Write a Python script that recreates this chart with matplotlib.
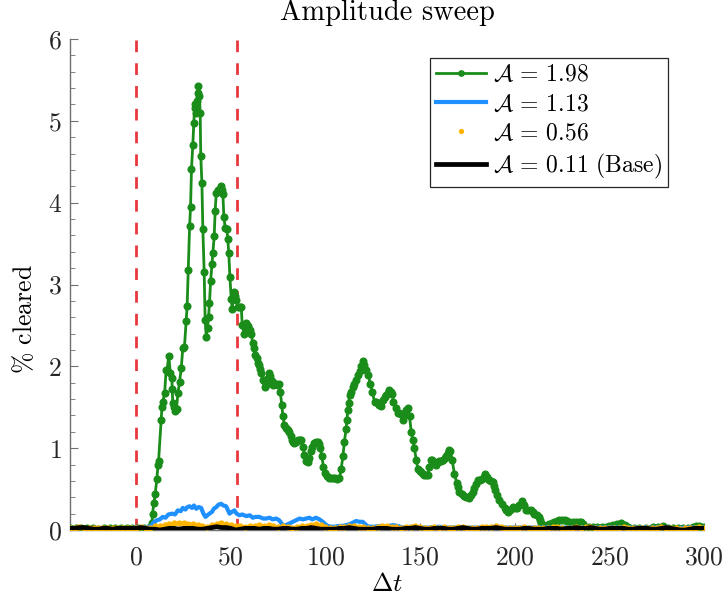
import numpy as np
import matplotlib
matplotlib.use("Agg")
import matplotlib.pyplot as plt
from matplotlib.ticker import MultipleLocator

# ---- data ----
# A = 1.98 (green, line + dots): (dt, % cleared)
green_t = [-35, -32, -29, -26, -23, -20, -17, -14, -11, -8, -5, -2, 1, 4, 6, 7.5,
           8.3, 8.6, 9.3, 10.0, 10.9, 11.5, 11.8, 13.2, 13.6, 14.1, 15.0, 15.8, 16.3, 17.2,
           18.0, 18.8, 19.0, 19.3, 20.0, 20.6, 21.3, 22.0, 22.9, 23.8, 24.6, 25.5, 26.4, 26.9,
           27.5, 28.2, 28.7, 29.2, 29.9, 30.4, 30.8, 31.3, 31.7, 32.0, 32.6, 32.9, 33.4, 33.8,
           34.1, 34.7, 35.2, 35.9, 36.4, 37.0, 37.7, 38.2, 38.7, 39.3, 40.0, 40.5, 41.2, 41.7,
           42.3, 43.0, 43.5, 44.1, 44.7, 45.3, 45.8, 46.3, 47.0, 47.9, 48.4, 48.9, 49.5, 50.2,
           50.7, 51.3, 51.9, 52.4, 52.8, 53.7, 54.6, 55.5, 56.0, 56.9, 57.5, 58.1, 58.7, 59.3,
           60.0, 60.7, 61.6, 62.3, 63.0, 63.6, 64.2, 64.8, 65.4, 66.0, 66.9, 67.8, 68.7, 69.3,
           69.9, 70.8, 71.5, 72.2, 73.1, 74.0, 74.7, 75.3, 76.1, 76.9, 77.5, 78.3, 79.0, 79.6,
           80.2, 80.9, 81.6, 82.4, 83.0, 83.6, 84.5, 85.4, 86.3, 87.2, 88.0, 88.9, 89.8, 90.7,
           91.5, 92.4, 93.0, 93.7, 94.8, 95.9, 96.5, 97.2, 98.1, 98.9, 100.0, 100.8, 101.7, 102.8,
           103.9, 105.0, 106.0, 107.4, 108.3, 109.2, 110.0, 110.9, 111.3, 111.8, 112.2, 112.7, 113.6, 114.4,
           115.3, 116.2, 117.1, 118.0, 118.8, 119.7, 120.6, 121.5, 122.7, 123.6, 124.7, 125.9, 126.7, 127.6,
           128.5, 129.4, 130.3, 131.2, 132.1, 133.0, 133.8, 134.5, 135.2, 135.9, 137.0, 138.2, 139.1, 140.0,
           140.8, 141.5, 142.3, 143.5, 144.4, 145.3, 146.1, 147.0, 147.9, 148.8, 149.7, 150.6, 151.4, 152.3,
           153.2, 154.0, 154.9, 155.8, 156.4, 157.6, 158.5, 159.3, 160.2, 161.1, 162.0, 162.9, 163.8, 164.6,
           165.5, 165.9, 166.9, 168.1, 169.4, 170.1, 170.8, 172.0, 173.4, 174.5, 175.7, 177.0, 178.0, 178.7,
           179.6, 180.5, 181.6, 182.8, 183.7, 184.5, 185.4, 186.3, 187.3, 188.4, 189.1, 189.8, 190.8, 191.9,
           193.2, 194.6, 195.5, 196.3, 197.6, 198.9, 200.0, 201.1, 202.5, 203.9, 204.8, 205.7, 207.2, 208.7,
           209.5, 210.4, 211.5, 212.7, 213.3, 213.9, 214.8, 215.7, 217.0, 218.3, 219.6, 221.0, 222.3, 223.6,
           225.0, 226.3, 227.6, 228.9, 230.6, 232.4, 233.7, 235.1, 236.0, 236.8, 239.0, 241.2, 243.5, 246.0,
           248.3, 250.0, 251.8, 254.0, 256.2, 258.0, 259.7, 263.0, 265.9, 269.5, 272.9, 275.5, 278.2, 281.0,
           283.5, 286.0, 288.8, 291.5, 294.1, 296.0, 297.6, 299.0, 300.0]
green_v = [0.02, 0.03, 0.03, 0.02, 0.02, 0.01, 0.02, 0.02, 0.02, 0.02, 0.03, 0.03, 0.03, 0.03, 0.02, 0.03,
           0.08, 0.20, 0.33, 0.44, 0.62, 0.80, 0.84, 1.34, 1.50, 1.57, 1.67, 1.96, 1.96, 2.13,
           1.92, 1.86, 1.72, 1.55, 1.50, 1.45, 1.48, 1.67, 1.81, 1.98, 2.22, 2.24, 2.56, 2.74,
           3.18, 3.71, 3.95, 4.41, 4.71, 4.97, 5.16, 5.20, 5.09, 5.24, 5.34, 5.42, 5.30, 5.09,
           4.57, 4.24, 3.68, 3.15, 2.57, 2.36, 2.47, 2.60, 2.77, 3.04, 3.25, 3.39, 3.59, 3.90,
           4.12, 4.15, 4.14, 4.17, 4.20, 4.15, 4.10, 3.83, 3.69, 3.68, 3.55, 3.38, 3.09, 2.82,
           2.70, 2.85, 2.91, 2.86, 2.81, 2.73, 2.72, 2.72, 2.51, 2.40, 2.48, 2.53, 2.50, 2.49,
           2.45, 2.40, 2.28, 2.22, 2.14, 2.10, 2.04, 2.02, 1.97, 1.92, 1.83, 1.75, 1.77, 1.85,
           1.92, 1.88, 1.82, 1.77, 1.78, 1.78, 1.77, 1.78, 1.69, 1.53, 1.39, 1.28, 1.25, 1.23,
           1.22, 1.20, 1.15, 1.10, 1.08, 1.06, 1.08, 1.10, 1.10, 1.10, 1.02, 0.92, 0.84, 0.83,
           0.88, 0.96, 1.01, 1.06, 1.07, 1.08, 1.05, 1.00, 0.90, 0.77, 0.70, 0.66, 0.63, 0.64,
           0.64, 0.63, 0.62, 0.63, 0.75, 0.90, 1.08, 1.24, 1.34, 1.47, 1.55, 1.65, 1.69, 1.75,
           1.79, 1.83, 1.89, 1.94, 2.00, 2.06, 2.02, 1.96, 1.89, 1.79, 1.69, 1.57, 1.56, 1.55,
           1.53, 1.51, 1.59, 1.62, 1.65, 1.68, 1.71, 1.69, 1.66, 1.57, 1.49, 1.43, 1.43, 1.42,
           1.34, 1.40, 1.47, 1.49, 1.39, 1.20, 1.10, 1.00, 0.86, 0.75, 0.72, 0.71, 0.69, 0.67,
           0.67, 0.67, 0.77, 0.86, 0.86, 0.83, 0.80, 0.83, 0.84, 0.84, 0.86, 0.88, 0.90, 0.94,
           0.98, 0.97, 0.86, 0.69, 0.57, 0.52, 0.47, 0.44, 0.41, 0.40, 0.39, 0.43, 0.47, 0.51,
           0.56, 0.61, 0.61, 0.62, 0.65, 0.68, 0.65, 0.61, 0.60, 0.59, 0.54, 0.49, 0.43, 0.37,
           0.32, 0.27, 0.24, 0.22, 0.25, 0.28, 0.27, 0.27, 0.31, 0.35, 0.30, 0.24, 0.24, 0.24,
           0.22, 0.20, 0.18, 0.16, 0.12, 0.08, 0.06, 0.05, 0.06, 0.07, 0.09, 0.10, 0.11, 0.12,
           0.12, 0.12, 0.11, 0.10, 0.10, 0.10, 0.10, 0.10, 0.07, 0.05, 0.04, 0.04, 0.04, 0.04,
           0.04, 0.05, 0.06, 0.07, 0.08, 0.06, 0.04, 0.03, 0.03, 0.03, 0.04, 0.04, 0.05, 0.03,
           0.02, 0.02, 0.03, 0.03, 0.04, 0.05, 0.05, 0.04, 0.03]

# A = 1.13 (blue line)
blue_t = [-35, -30, -25, -20, -15, -10, -5, 0, 5, 8, 9, 11, 12.5, 14, 15.5, 17, 19, 20.5, 22, 23.5,
          24.6, 26, 27, 28.2, 29.5, 30.5, 31.7, 33, 34.3, 35.5, 36.6, 37.6, 38.7, 40, 41, 42.3, 43.5, 44.9,
          46, 47.5, 48.5, 49.3, 50.5, 51.9, 53, 54.6, 56, 58.1, 60, 61.6, 63, 65.1, 67, 68.7, 70.5, 72,
          74, 75.5, 77.5, 79.2, 81, 82.7, 84.5, 86.3, 88, 89.8, 91.5, 93, 95, 96.8, 98.6, 100, 101.2, 103,
          105, 107, 109.1, 111, 112.7, 114.5, 116.2, 118, 119.7, 120.6, 122, 123.2, 126, 129, 132, 135.6,
          138, 141, 145, 150, 155, 160, 165, 170, 175, 180, 185, 190, 195, 200, 205, 210, 215, 220, 225,
          230, 235, 240, 245, 250, 255, 260, 265, 270, 275, 280, 285, 290, 295, 300]
blue_v = [0.02, 0.02, 0.02, 0.02, 0.02, 0.02, 0.02, 0.03, 0.03, 0.05, 0.09, 0.12, 0.13, 0.16, 0.15, 0.19, 0.20, 0.19, 0.24, 0.23,
          0.27, 0.25, 0.28, 0.29, 0.27, 0.30, 0.26, 0.28, 0.27, 0.20, 0.16, 0.18, 0.20, 0.22, 0.26, 0.28, 0.31, 0.32,
          0.30, 0.29, 0.24, 0.20, 0.22, 0.24, 0.20, 0.18, 0.19, 0.17, 0.18, 0.15, 0.16, 0.16, 0.14, 0.14, 0.15, 0.13,
          0.14, 0.12, 0.06, 0.06, 0.08, 0.10, 0.12, 0.14, 0.13, 0.14, 0.15, 0.13, 0.15, 0.13, 0.10, 0.07, 0.05, 0.04,
          0.04, 0.05, 0.05, 0.06, 0.07, 0.09, 0.11, 0.10, 0.10, 0.08, 0.05, 0.04, 0.04, 0.05, 0.04, 0.06,
          0.05, 0.03, 0.04, 0.03, 0.03, 0.04, 0.03, 0.03, 0.03, 0.03, 0.03, 0.04, 0.03, 0.03, 0.03, 0.03, 0.03, 0.03, 0.03,
          0.03, 0.03, 0.03, 0.03, 0.03, 0.03, 0.03, 0.03, 0.03, 0.03, 0.03, 0.02, 0.03, 0.03, 0.03]

# A = 0.56 (orange dots) and A = 0.11 base (black line), sampled every 2.5
low_t = np.arange(-35, 300.1, 2.5)
orange_v = [0.03, 0.03, 0.04, 0.03, 0.03, 0.02, 0.02, 0.03, 0.03, 0.02, 0.03, 0.03, 0.03, 0.03,
            0.03, 0.04, 0.03, 0.03,
            0.05, 0.05, 0.06, 0.07, 0.08, 0.08, 0.09, 0.07, 0.07, 0.06, 0.05, 0.04, 0.06, 0.07, 0.08, 0.07,
            0.06, 0.05, 0.05, 0.04, 0.05,
            0.05, 0.06, 0.05, 0.06, 0.05, 0.04, 0.05, 0.04, 0.03, 0.04, 0.05, 0.05, 0.06, 0.07, 0.06, 0.04,
            0.03, 0.03, 0.04, 0.04, 0.05, 0.05, 0.04, 0.04, 0.03, 0.03, 0.04, 0.05, 0.05, 0.04, 0.04, 0.03,
            0.04, 0.04, 0.05, 0.04,
            0.03, 0.03, 0.04, 0.03, 0.04, 0.03, 0.03, 0.04, 0.04, 0.03, 0.03, 0.03, 0.04, 0.04, 0.04, 0.05,
            0.04, 0.03, 0.03, 0.03,
            0.03, 0.04, 0.03, 0.03, 0.02, 0.03, 0.03, 0.04, 0.04, 0.03, 0.03, 0.03, 0.04, 0.03, 0.04, 0.04,
            0.03, 0.03, 0.03, 0.03,
            0.03, 0.03, 0.04, 0.03, 0.03, 0.03, 0.02, 0.03, 0.03, 0.03, 0.04, 0.03, 0.03, 0.02, 0.01, 0.02,
            0.03, 0.03, 0.04, 0.03]
black_v = [0.02, 0.02, 0.03, 0.03, 0.02, 0.01, 0.01, 0.02, 0.02, 0.01, 0.02, 0.02, 0.02, 0.02,
           0.02, 0.03, 0.02, 0.01,
           0.01, 0.00, 0.01, 0.02, 0.02, 0.01, 0.02, 0.02, 0.02, 0.01, 0.01, 0.02, 0.03, 0.04, 0.03, 0.03,
           0.02, 0.00, 0.01, 0.02, 0.02,
           0.02, 0.01, 0.02, 0.02, 0.01, 0.01, 0.02, 0.02, 0.01, 0.01, 0.02, 0.02, 0.03, 0.02, 0.01, 0.01,
           0.01, 0.01, 0.02, 0.02, 0.03, 0.02, 0.01, 0.01, 0.01, 0.01, 0.02, 0.02, 0.02, 0.01, 0.01, 0.01,
           0.02, 0.02, 0.03, 0.02,
           0.01, 0.01, 0.02, 0.02, 0.02, 0.01, 0.01, 0.02, 0.03, 0.02, 0.01, 0.01, 0.02, 0.02, 0.02, 0.03,
           0.02, 0.01, 0.01, 0.01,
           0.01, 0.02, 0.02, 0.01, 0.01, 0.01, 0.02, 0.02, 0.02, 0.01, 0.02, 0.02, 0.03, 0.02, 0.02, 0.03,
           0.02, 0.01, 0.01, 0.02,
           0.02, 0.02, 0.02, 0.01, 0.01, 0.02, 0.02, 0.02, 0.01, 0.01, 0.02, 0.03, 0.02, 0.01, 0.00, 0.00,
           0.01, 0.02, 0.02, 0.02]

window = [0, 53.5]   # red dashed markers

# ---- style ----
plt.rcParams['font.family'] = 'serif'
plt.rcParams['font.serif'] = ['cmr10']
plt.rcParams['mathtext.fontset'] = 'cm'
plt.rcParams['axes.formatter.use_mathtext'] = True
plt.rcParams['axes.unicode_minus'] = False

fig = plt.figure(figsize=(7.26, 6.02), dpi=100)
ax = fig.add_axes([0.0964, 0.1196, 0.8733, 0.8156])

for xv in window:
    ax.axvline(xv, color='#e8383d', lw=2, linestyle=(0, (4.2, 4.0)), zorder=1)

ax.plot(green_t, green_v, '-o', color='#1a8c1a', lw=2.0, ms=4.8,
        label=r'$\mathcal{A}$ = 1.98', zorder=3)
ax.plot(blue_t, blue_v, '-', color='#1e90ff', lw=3.0,
        label=r'$\mathcal{A}$ = 1.13', zorder=3)
ax.plot(low_t, orange_v, '.', color='#ffb400', ms=7,
        label=r'$\mathcal{A}$ = 0.56', zorder=3)
ax.plot(low_t, black_v, '-', color='black', lw=3.4,
        label=r'$\mathcal{A}$ = 0.11 (Base)', zorder=4)

ax.set_xlim(-35, 300)
ax.set_ylim(0, 6)
ax.set_xticks([0, 50, 100, 150, 200, 250, 300])
ax.yaxis.set_major_locator(MultipleLocator(1))
ax.yaxis.set_minor_locator(MultipleLocator(0.2))

ax.spines['top'].set_visible(False)
ax.spines['right'].set_visible(False)
for s in ('left', 'bottom'):
    ax.spines[s].set_color('#707070')
    ax.spines[s].set_linewidth(1.0)

ax.tick_params(axis='both', which='both', direction='in', colors='#707070',
               labelcolor='#262626', labelsize=18.5)
ax.tick_params(axis='y', which='major', length=6, pad=6)
ax.tick_params(axis='y', which='minor', length=3.5)
ax.tick_params(axis='x', which='major', length=5, pad=11)

# fixed y turns off the automatic title lift above the "6" tick label
ax.set_title('Amplitude sweep', fontsize=20.5, y=1.039, pad=0)
ax.set_xlabel(r'$\Delta t$', fontsize=18.5, labelpad=2)
ax.set_ylabel(r'$\%$ cleared', fontsize=18.5)
ax.yaxis.set_label_coords(-0.052, 0.43)

leg = ax.legend(loc='upper right', bbox_to_anchor=(0.943, 0.961), borderaxespad=0,
                fontsize=17, frameon=True, fancybox=False, framealpha=1,
                edgecolor='#262626', handlelength=2.1, handletextpad=0.3,
                borderpad=0.25, labelspacing=0.3, markerscale=0.8)
leg.get_frame().set_linewidth(0.9)

fig.savefig('out.png', dpi=100)
